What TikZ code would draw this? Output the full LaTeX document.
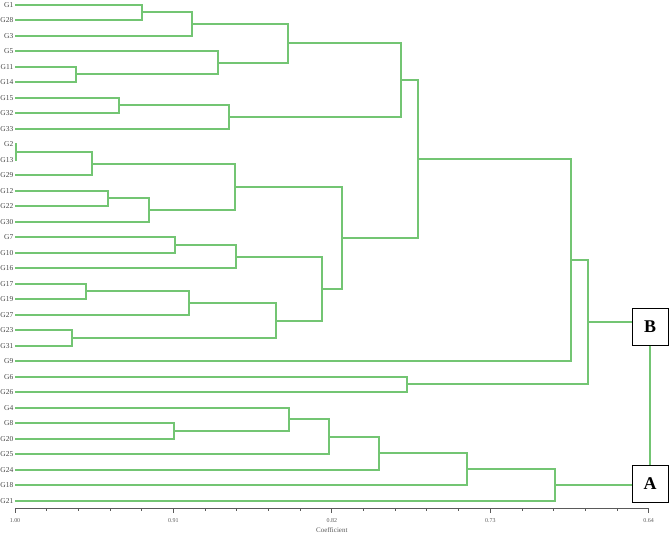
\documentclass[tikz,border=0pt]{standalone}
\usepackage{fontspec}
\setmainfont{Liberation Serif}
\usepackage{tkz-euclide}
\definecolor{BranchClr}{RGB}{115,197,115}
\definecolor{LabelClr}{RGB}{70,70,70}
\definecolor{AxisClr}{RGB}{90,90,90}

\begin{document}
\begin{tikzpicture}[x=1bp,y=-1bp,
  branch/.style={line width=2bp,color=BranchClr},
  leaf/.style={font=\fontsize{7.5}{8}\selectfont,text=LabelClr,inner sep=1.5pt},
  axis/.style={line width=.9bp,color=AxisClr},
  ticklab/.style={font=\fontsize{6}{6}\selectfont,text=AxisClr,inner sep=0pt},
  grp/.style={draw=black,line width=1bp,fill=white,minimum width=36bp,minimum height=37bp,
    inner sep=0pt,font=\fontsize{18}{18}\bfseries\selectfont}]
\useasboundingbox (0,0) rectangle (669,534);

% leaves
\foreach \g [count=\i] in {G1,G28,G3,G5,G11,G14,G15,G32,G33,G2,G13,G29,G12,G22,G30,
  G7,G10,G16,G17,G19,G27,G23,G31,G9,G6,G26,G4,G8,G20,G25,G24,G18,G21}{
  \tkzDefPoint(15,{4.7+15.5*(\i-1)}){\g}
  \tkzLabelPoint[left,leaf](\g){\g}
}

% merge points
\tkzDefPoints{141.7/12.45/m1,191.7/24.1/m2,76/74.45/m3,218.3/62.8/m4,288.3/43.45/m5,
  119/105.45/m6,229.3/117.1/m7,400.7/80.3/m8,16/151.95/m9,91.7/163.6/m10,
  107.7/198.45/m11,149.3/210.1/m12,235/186.85/m13,175/244.95/m14,236/256.6/m15,
  85.7/291.45/m16,189/303.1/m17,71.7/337.95/m18,276/320.5/m19,321.7/288.55/m20,
  341.7/237.7/m21,417.7/159/m22,571/260.1/m23,406.7/384.45/m24,587.7/322.3/m25,
  173.7/430.95/m26,289.3/419.3/m27,329/436.75/m28,379/453.2/m29,466.7/469.2/m30,
  555/484.95/m31}

% brackets
\foreach \a/\m/\b in {G1/m1/G28,m1/m2/G3,G11/m3/G14,G5/m4/m3,m2/m5/m4,
  G15/m6/G32,m6/m7/G33,m5/m8/m7,G2/m9/G13,m9/m10/G29,G12/m11/G22,m11/m12/G30,
  m10/m13/m12,G7/m14/G10,m14/m15/G16,G17/m16/G19,m16/m17/G27,G23/m18/G31,
  m17/m19/m18,m15/m20/m19,m13/m21/m20,m8/m22/m21,m22/m23/G9,G6/m24/G26,
  m23/m25/m24,G8/m26/G20,G4/m27/m26,m27/m28/G25,m28/m29/G24,m29/m30/G18,
  m30/m31/G21}
  \draw[branch] (\a) -| (\m) |- (\b);

% groups
\node[grp] (B) at (650,326.7) {B};
\node[grp] (A) at (650,483.5) {A};
\draw[branch] (m25) -- (m25 -| B.west);
\draw[branch] (m31) -- (m31 -| A.west);
\draw[branch,line width=1.5bp] (B.south) -- (A.north);

% axis
\coordinate (ax0) at (15,508);
\coordinate (ax1) at (648.7,508);
\draw[axis] (ax0) -- (ax1);
\foreach \k in {0,...,20}{
  \pgfmathsetmacro{\len}{ifthenelse(mod(\k,5)==0,5,3)}
  \draw[axis] ($(ax0)!\k/20!(ax1)$) -- ++(0,\len);
}
\foreach \k/\v in {0/1.00,5/0.91,10/0.82,15/0.73,20/0.64}
  \node[ticklab] (t\k) at ($(ax0)!\k/20!(ax1)+(0,12.5)$) {\v};
\node[ticklab,font=\fontsize{7}{7}\selectfont] (coef) at ($(t10)+(0,9.5)$) {Coefficient};
\end{tikzpicture}
\end{document}
